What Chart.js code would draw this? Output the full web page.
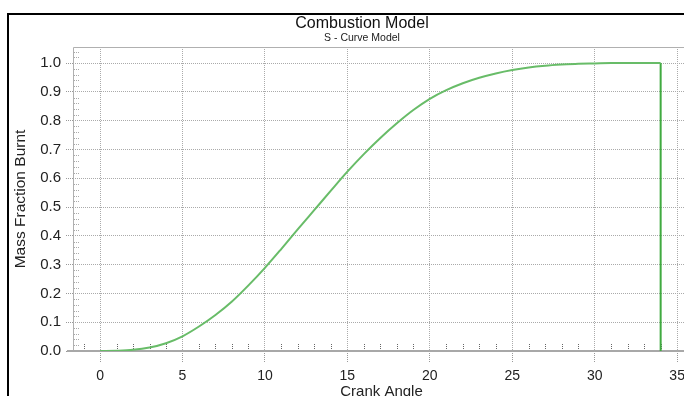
<!DOCTYPE html>
<html>
<head>
<meta charset="utf-8">
<script src="https://cdn.jsdelivr.net/npm/chart.js@4/dist/chart.umd.min.js"></script>
<style>
  html, body { margin: 0; padding: 0; background: #fff; overflow: hidden; }
  #wrap { position: absolute; left: 0; top: 0; width: 724px; height: 420px; }
</style>
</head>
<body>
<div id="wrap"><canvas id="chart" width="724" height="420"></canvas></div>
<script>
// Burn curve: mass fraction burnt against crank angle (degrees)
const crankAngle = [0, 1, 2, 3, 4, 5, 6, 7, 8, 9, 10, 11, 12, 13, 14, 15, 16, 17,
                    18, 19, 20, 21, 22, 23, 24, 25, 26, 27, 28, 29, 30, 31, 32, 33, 34];
const massFractionBurnt = [0.000, 0.001, 0.004, 0.012, 0.027, 0.051, 0.085, 0.125, 0.172,
                           0.228, 0.289, 0.355, 0.423, 0.490, 0.557, 0.623, 0.684, 0.740,
                           0.791, 0.837, 0.876, 0.906, 0.930, 0.949, 0.964, 0.976, 0.985,
                           0.991, 0.995, 0.998, 0.999, 1.000, 1.000, 1.000, 1.000];

// End of combustion: the trace drops back to zero
const endAngle = [34, 34];
const endFraction = [1.0, 0.0];

// Axis tick labels
const xTickValues = [0, 5, 10, 15, 20, 25, 30, 35];
const yTickValues = [0.0, 0.1, 0.2, 0.3, 0.4, 0.5, 0.6, 0.7, 0.8, 0.9, 1.0];

const FONT = 'Liberation Sans, Arial, sans-serif';

// Outer black frame around the whole figure
const outerFrame = {
  id: 'outerFrame',
  beforeDraw(chart) {
    const ctx = chart.ctx;
    ctx.save();
    ctx.fillStyle = '#ffffff';
    ctx.fillRect(0, 0, chart.width, chart.height);
    ctx.strokeStyle = '#000000';
    ctx.lineWidth = 2;
    ctx.strokeRect(8, 14, chart.width - 16, chart.height + 20);
    ctx.restore();
  }
};

// Plot frame, baseline and minor ticks
const plotFrame = {
  id: 'plotFrame',
  beforeDatasetsDraw(chart) {
    const { ctx, chartArea: a, scales: { x, y } } = chart;
    ctx.save();
    // frame lines
    ctx.strokeStyle = '#b0b0b0';
    ctx.lineWidth = 1;
    ctx.beginPath();
    ctx.moveTo(a.left + 0.5, a.bottom);
    ctx.lineTo(a.left + 0.5, a.top + 0.5);
    ctx.lineTo(a.right + 0.5, a.top + 0.5);
    ctx.lineTo(a.right + 0.5, a.bottom);
    ctx.stroke();

    // minor ticks along the crank-angle axis (every degree)
    ctx.strokeStyle = '#666';
    ctx.setLineDash([1, 1]);
    for (let v = Math.ceil(x.min); v <= x.max; v++) {
      if (v % 5 === 0) continue;
      const px = Math.round(x.getPixelForValue(v)) + 0.5;
      ctx.beginPath();
      ctx.moveTo(px, a.bottom);
      ctx.lineTo(px, a.bottom - 7);
      ctx.stroke();
    }
    // minor ticks along the left edge (every 0.02)
    ctx.strokeStyle = '#aaa';
    for (let i = 1; i * 0.02 <= y.max; i++) {
      if (i % 5 === 0) continue;
      const py = Math.round(y.getPixelForValue(i * 0.02)) + 0.5;
      ctx.beginPath();
      ctx.moveTo(a.left + 1, py);
      ctx.lineTo(a.left + 6, py);
      ctx.stroke();
    }
    ctx.setLineDash([]);

    // baseline at zero
    ctx.strokeStyle = '#a8a8a8';
    ctx.lineWidth = 2;
    const by = y.getPixelForValue(0);
    ctx.beginPath();
    ctx.moveTo(a.left - 6, by);
    ctx.lineTo(a.right, by);
    ctx.stroke();
    ctx.restore();
  }
};

new Chart(document.getElementById('chart'), {
  type: 'line',
  data: {
    datasets: [
      {
        data: crankAngle.map((a, i) => ({ x: a, y: massFractionBurnt[i] })),
        borderColor: 'rgb(104, 188, 104)',
        borderWidth: 2,
        pointRadius: 0,
        cubicInterpolationMode: 'monotone',
        fill: false
      },
      {
        data: endAngle.map((a, i) => ({ x: a, y: endFraction[i] })),
        borderColor: 'rgb(64, 170, 64)',
        borderWidth: 2,
        pointRadius: 0,
        tension: 0,
        fill: false
      }
    ]
  },
  options: {
    responsive: false,
    animation: false,
    devicePixelRatio: 1,
    layout: { padding: { left: 0, right: 0, top: 0, bottom: 0 } },
    plugins: {
      legend: { display: false },
      tooltip: { enabled: false },
      title: {
        display: true,
        text: 'Combustion Model',
        color: '#111',
        font: { family: FONT, size: 16, weight: 'normal' },
        padding: { top: 13.5, bottom: 0 }
      },
      subtitle: {
        display: true,
        text: 'S - Curve Model',
        color: '#222',
        font: { family: FONT, size: 10.5, weight: 'normal', lineHeight: 1 },
        padding: { top: 0, bottom: 3.8 }
      }
    },
    scales: {
      x: {
        type: 'linear',
        min: -1.64,
        max: 35.78,
        afterBuildTicks: s => { s.ticks = xTickValues.map(v => ({ value: v })); },
        afterFit: s => { s.height = 69; },
        border: { display: false, dash: [1, 1] },
        grid: { color: '#aaa', lineWidth: 1, tickLength: 11, tickColor: '#999', tickBorderDash: [1, 1] },
        ticks: { color: '#222', font: { family: FONT, size: 14 }, padding: 6, maxRotation: 0, autoSkip: false },
        title: {
          display: true,
          text: 'Crank Angle',
          color: '#222',
          font: { family: FONT, size: 15 },
          padding: { top: 0, bottom: 19 }
        }
      },
      y: {
        type: 'linear',
        min: 0,
        max: 1.056,
        afterBuildTicks: s => { s.ticks = yTickValues.map(v => ({ value: v })); },
        afterFit: s => { s.width = 73; },
        border: { display: false, dash: [1, 1] },
        grid: { color: '#aaa', lineWidth: 1, tickLength: 7, tickColor: '#999', tickBorderDash: [1, 1] },
        ticks: { color: '#222', font: { family: FONT, size: 15 }, padding: 5, callback: v => v.toFixed(1), autoSkip: false },
        title: {
          display: true,
          text: 'Mass Fraction Burnt',
          color: '#222',
          font: { family: FONT, size: 15.5 },
          padding: { top: 11, bottom: 0 }
        }
      },
      // empty margin on the right of the plot
      yMargin: {
        type: 'linear',
        position: 'right',
        display: true,
        afterFit: s => { s.width = 34; },
        grid: { display: false, drawTicks: false },
        border: { display: false },
        ticks: { display: false }
      }
    }
  },
  plugins: [outerFrame, plotFrame]
});
</script>
</body>
</html>
